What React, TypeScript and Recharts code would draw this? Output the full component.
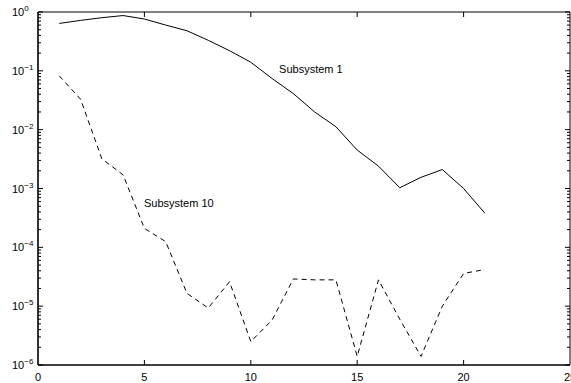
import { Line, LineChart, ReferenceArea, ReferenceDot, XAxis, YAxis } from "recharts";

// iteration index
const steps = [1, 2, 3, 4, 5, 6, 7, 8, 9, 10, 11, 12, 13, 14, 15, 16, 17, 18, 19, 20, 21];

const subsystem1 = [
  0.64, 0.72, 0.8, 0.87, 0.76, 0.6, 0.48, 0.33, 0.22, 0.14, 0.074, 0.041, 0.02, 0.0112,
  0.0045, 0.0024, 0.00103, 0.00155, 0.0021, 0.001, 0.00038,
];

const subsystem10 = [
  0.082, 0.033, 0.0032, 0.0017, 0.00021, 0.000125, 1.65e-5, 9.3e-6, 2.6e-5, 2.5e-6, 5.8e-6,
  2.9e-5, 2.8e-5, 2.8e-5, 1.4e-6, 2.8e-5, 6e-6, 1.4e-6, 1e-5, 3.6e-5, 4.2e-5,
];

const xTicks = [0, 5, 10, 15, 20, 25];
const decades = [-6, -5, -4, -3, -2, -1, 0];
const minorMult = [2, 3, 4, 5, 6, 7, 8, 9];

const data = steps.map((s, i) => ({ step: s, s1: subsystem1[i], s10: subsystem10[i] }));

const yTicks: number[] = [];
decades.forEach((d) => {
  yTicks.push(Math.pow(10, d));
  if (d < 0) minorMult.forEach((m) => yTicks.push(m * Math.pow(10, d)));
});

const W = 571;
const H = 383;
const LEFT = 38;
const RIGHT = 570;
const TOP = 12;
const BOTTOM = 365;
const FONT = "'Liberation Sans', Arial, Helvetica, sans-serif";

const XTick = (props: any) => {
  const { x, payload } = props;
  const inner = payload.value > 0 && payload.value < 25;
  return (
    <g>
      {inner && <line x1={x} x2={x} y1={BOTTOM} y2={BOTTOM - 5} stroke="#000" />}
      {inner && <line x1={x} x2={x} y1={TOP} y2={TOP + 5} stroke="#000" />}
      <text x={x} y={381} textAnchor="middle" fontSize={11} fontFamily={FONT} fill="#000">
        {payload.value}
      </text>
    </g>
  );
};

const YTick = (props: any) => {
  const { y, payload } = props;
  const v = payload.value;
  const exp = Math.round(Math.log10(v));
  const major = Math.abs(Math.log10(v) - exp) < 1e-6;
  const len = major ? 5 : 3;
  return (
    <g>
      <line x1={LEFT} x2={LEFT + len} y1={y} y2={y} stroke="#000" />
      <line x1={RIGHT} x2={RIGHT - len} y1={y} y2={y} stroke="#000" />
      {major && (
        <text x={12} y={y + 4} fontSize={11} fontFamily={FONT} fill="#000">
          <tspan>10</tspan>
          <tspan dy={-5} fontSize={8}>
            {exp < 0 ? `\u2212${-exp}` : `${exp}`}
          </tspan>
        </text>
      )}
    </g>
  );
};

const labelShape = (text: string) => (p: any) => (
  <text x={p.cx} y={p.cy} fontSize={11} fontFamily={FONT} fill="#000">
    {text}
  </text>
);

export default function App() {
  return (
    <div style={{ width: W, height: H, background: "#fff" }}>
      <style>{"body{margin:0}"}</style>
      <LineChart
        width={W}
        height={H}
        data={data}
        margin={{ top: TOP, right: W - RIGHT, left: 0, bottom: 0 }}
      >
        <XAxis
          dataKey="step"
          type="number"
          domain={[0, 25]}
          ticks={xTicks}
          height={H - BOTTOM}
          tick={<XTick />}
          tickLine={false}
          axisLine={{ stroke: "#000", strokeWidth: 1.2 }}
          interval={0}
        />
        <YAxis
          scale="log"
          domain={[1e-6, 1]}
          allowDataOverflow
          ticks={yTicks}
          width={LEFT}
          tick={<YTick />}
          tickLine={false}
          axisLine={{ stroke: "#000", strokeWidth: 1.2 }}
          interval={0}
        />
        <ReferenceArea
          x1={0}
          x2={25}
          y1={1e-6}
          y2={1}
          fill="none"
          stroke="#000"
          strokeWidth={1}
          ifOverflow="visible"
        />
        <Line
          dataKey="s1"
          stroke="#000"
          strokeWidth={1}
          dot={false}
          type="linear"
          isAnimationActive={false}
        />
        <Line
          dataKey="s10"
          stroke="#000"
          strokeWidth={1}
          strokeDasharray="5 4"
          dot={false}
          type="linear"
          isAnimationActive={false}
        />
        <ReferenceDot x={11.33} y={0.092} r={0} shape={labelShape("Subsystem 1")} />
        <ReferenceDot x={4.98} y={0.00048} r={0} shape={labelShape("Subsystem 10")} />
      </LineChart>
    </div>
  );
}
